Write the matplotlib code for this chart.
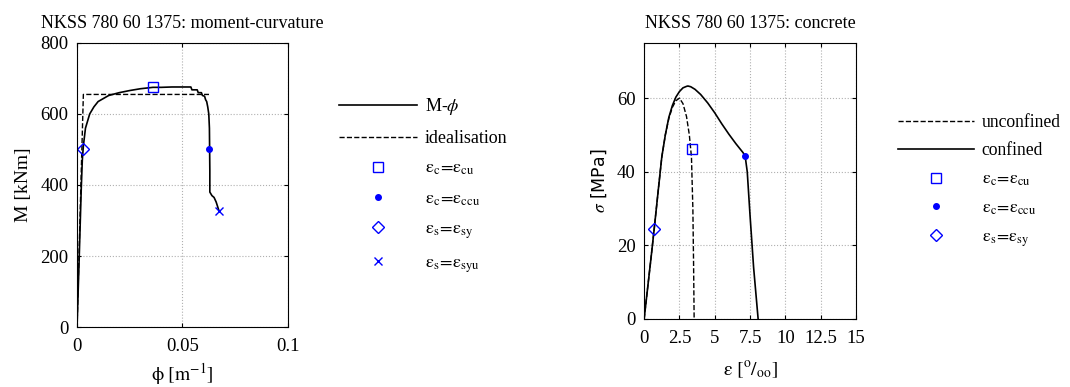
import matplotlib
matplotlib.use("Agg")
import matplotlib.pyplot as plt

plt.rcParams['font.family'] = ['Liberation Serif', 'DejaVu Serif']
plt.rcParams['mathtext.fontset'] = 'stix'
plt.rcParams['font.size'] = 13

# moment-curvature (left)
phi = [0, 0.0010, 0.0020, 0.0025, 0.0030, 0.0040, 0.0060, 0.0080, 0.010, 0.015,
       0.020, 0.025, 0.030, 0.036, 0.040, 0.045, 0.050, 0.054, 0.0545, 0.057,
       0.0575, 0.059, 0.0595, 0.0605, 0.061, 0.0615, 0.062, 0.0625, 0.0628,
       0.0629, 0.0630, 0.0630, 0.0640, 0.0650, 0.0660, 0.0673]
moment = [0, 190, 390, 470, 510, 560, 600, 620, 635, 652,
          660, 666, 671, 675, 675, 676, 676, 676, 668, 668,
          660, 660, 652, 650, 640, 635, 620, 600, 560,
          500, 440, 380, 370, 365, 352, 328]
ideal_phi = [0, 0.0030, 0.0626]
ideal_M = [0, 655, 655]

mc_cu = (0.036, 676)
mc_ccu = (0.0627, 500)
mc_sy = (0.0027, 500)
mc_syu = (0.0673, 328)

# concrete stress-strain (right)
eps_unconf = [0, 0.5, 0.7, 1.0, 1.25, 1.5, 1.75, 2.0, 2.25, 2.5, 2.75, 3.0, 3.2, 3.35, 3.45, 3.5, 3.54]
sig_unconf = [0, 17, 24, 35, 44, 50, 54.5, 57.5, 59.3, 60, 58.5, 55, 50, 44, 30, 15, 0]
eps_conf = [0, 0.5, 0.7, 1.0, 1.25, 1.5, 1.75, 2.0, 2.25, 2.5, 2.75, 3.0, 3.1, 3.3, 3.6,
            4.0, 4.5, 5.0, 5.5, 6.0, 6.5, 7.0, 7.15, 7.3, 7.5, 7.75, 8.07]
sig_conf = [0, 17, 24, 35, 44, 50, 54.8, 58, 60.3, 61.8, 62.8, 63.2, 63.3, 63.1, 62.4,
            61, 58.7, 56, 53, 50.2, 47.6, 45.2, 44.3, 40, 28, 14, 0]

cc_cu = (3.4, 46.3)
cc_ccu = (7.15, 44.3)
cc_sy = (0.7, 24.5)

fig = plt.figure(figsize=(10.7, 3.87), dpi=100)

def style_axes(ax):
    ax.grid(True, color='#b0b0b0', linestyle=':', linewidth=0.8)
    ax.tick_params(direction='in', top=True, right=True, length=3, labelsize=13.5, pad=6)
    ax.tick_params(axis='x', pad=8)
    for s in ax.spines.values():
        s.set_linewidth(0.8)

leg_kw = dict(frameon=False, handlelength=4.3, handletextpad=0.45,
              bbox_transform=fig.transFigure, loc='upper left')

# left plot
ax1 = fig.add_axes([0.072, 0.155, 0.197, 0.734])
ax1.plot(phi, moment, color='k', lw=1.2, label=r'M-$\phi$')
ax1.plot(ideal_phi, ideal_M, color='k', lw=1.0, ls='--', label='idealisation')
ax1.plot(*mc_cu, 's', mfc='none', mec='b', ms=7, ls='none',
         label=r'$\mathrm{\varepsilon_c\!=\!\varepsilon_{cu}}$')
ax1.plot(*mc_ccu, 'o', color='b', ms=4, ls='none',
         label=r'$\mathrm{\varepsilon_c\!=\!\varepsilon_{ccu}}$')
ax1.plot(*mc_sy, 'D', mfc='none', mec='b', ms=6.5, ls='none',
         label=r'$\mathrm{\varepsilon_s\!=\!\varepsilon_{sy}}$')
ax1.plot(*mc_syu, 'x', color='b', ms=6, ls='none',
         label=r'$\mathrm{\varepsilon_s\!=\!\varepsilon_{syu}}$')
ax1.set_xlim(0, 0.1)
ax1.set_ylim(0, 800)
ax1.set_xticks([0, 0.05, 0.1])
ax1.set_xticklabels(['0', '0.05', '0.1'])
ax1.set_yticks([0, 200, 400, 600, 800])
ax1.set_title('NKSS 780 60 1375: moment-curvature', fontsize=13, pad=11)
ax1.set_xlabel(r'$\mathrm{\phi\ [m^{-1}]}$', fontsize=14, labelpad=4)
ax1.set_ylabel('M [kNm]', fontsize=14, labelpad=6)
style_axes(ax1)
ax1.legend(bbox_to_anchor=(0.302, 0.794), fontsize=13, labelspacing=0.72, **leg_kw)

# right plot
ax2 = fig.add_axes([0.602, 0.176, 0.198, 0.713])
ax2.plot(eps_unconf, sig_unconf, color='k', lw=1.0, ls='--', label='unconfined')
ax2.plot(eps_conf, sig_conf, color='k', lw=1.2, label='confined')
ax2.plot(*cc_cu, 's', mfc='none', mec='b', ms=7, ls='none',
         label=r'$\mathrm{\varepsilon_c\!=\!\varepsilon_{cu}}$')
ax2.plot(*cc_ccu, 'o', color='b', ms=4, ls='none',
         label=r'$\mathrm{\varepsilon_c\!=\!\varepsilon_{ccu}}$')
ax2.plot(*cc_sy, 'D', mfc='none', mec='b', ms=6.5, ls='none',
         label=r'$\mathrm{\varepsilon_s\!=\!\varepsilon_{sy}}$')
ax2.set_xlim(0, 15)
ax2.set_ylim(0, 75)
ax2.set_xticks([0, 2.5, 5, 7.5, 10, 12.5, 15])
ax2.set_xticklabels(['0', '2.5', '5', '7.5', '10', '12.5', '15'])
ax2.set_yticks([0, 20, 40, 60])
ax2.set_title('NKSS 780 60 1375: concrete', fontsize=13, pad=11)
ax2.set_xlabel(r'$\mathrm{\varepsilon\ [^o/_{oo}]}$', fontsize=14, labelpad=9)
ax2.set_ylabel(r'$\sigma$ [MPa]', fontsize=12.5, labelpad=6, family='DejaVu Sans')
style_axes(ax2)
ax2.legend(bbox_to_anchor=(0.8245, 0.746), fontsize=12.7, labelspacing=0.64, **leg_kw)

fig.savefig('out.png', dpi=100)
